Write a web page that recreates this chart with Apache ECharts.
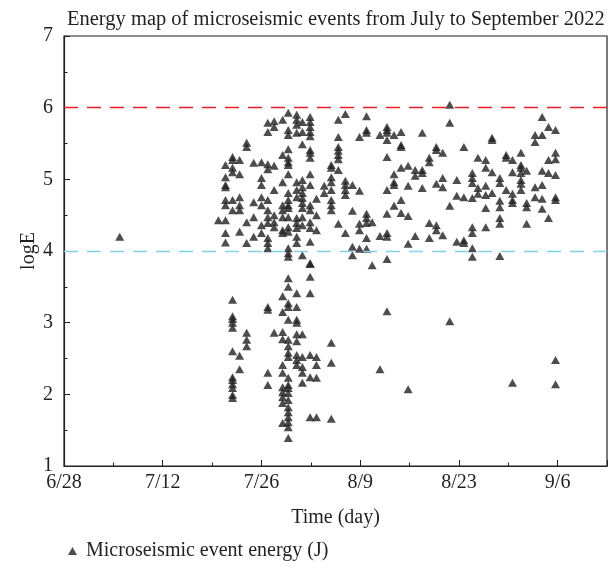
<!DOCTYPE html>
<html>
<head>
<meta charset="utf-8">
<script src="https://cdn.jsdelivr.net/npm/echarts@6/dist/echarts.min.js"></script>
<style>
  html, body { margin: 0; padding: 0; background: #fff; }
  #main { width: 613px; height: 574px; }
</style>
</head>
<body>
<div id="main"></div>
<script>
// days counted from 6/28, logE values read per day column
var dayCols = [7.9, 21.9, 22.9, 23.9, 24.9, 25.9, 26.9, 28.0, 28.9, 29.8, 31.0, 31.8, 33.0, 33.8, 34.9, 35.8, 36.9, 37.9,
  38.9, 39.9, 40.9, 41.9, 42.9, 43.7, 44.8, 45.8, 46.8, 47.8, 48.8, 49.8, 50.8, 51.8, 52.8, 53.7, 54.7, 55.7,
  56.7, 57.9, 58.7, 59.8, 60.7, 61.8, 62.7, 63.6, 64.8, 65.6, 66.8, 67.8, 68.7, 69.7];
var logEValues = [
  [4.20],
  [4.43],
  [5.20, 5.03, 4.92, 4.89, 4.71, 4.64, 4.43, 4.25, 4.12],
  [5.31, 5.27, 5.16, 5.10, 4.71, 4.57, 3.32, 3.09, 3.05, 3.00, 2.93, 2.60, 2.24, 2.20, 2.14, 2.09, 1.99, 1.95],
  [5.27, 5.07, 4.75, 4.64, 4.57, 4.27, 2.54, 2.35],
  [5.51, 5.45, 4.40, 4.11, 2.86, 2.76, 2.67],
  [5.23, 4.68, 4.47, 4.20],
  [5.24, 5.02, 4.92, 4.75, 4.64, 4.36, 4.25],
  [5.79, 5.66, 5.21, 5.14, 4.71, 4.57, 4.47, 4.39, 4.18, 4.11, 4.04, 3.22, 3.18, 2.30, 2.13],
  [5.81, 5.73, 5.19, 4.85, 4.50, 4.40, 4.33, 2.86],
  [5.83, 5.34, 4.96, 4.64, 4.57, 4.47, 4.29, 4.25, 3.37, 3.15, 2.87, 2.77, 2.41, 2.30, 2.10, 2.03, 1.96, 1.88, 1.60],
  [5.93, 5.69, 5.62, 5.42, 5.30, 5.24, 5.20, 5.07, 4.81, 4.71, 4.64, 4.60, 4.47, 4.33, 4.27, 4.04, 3.97, 3.92,
    3.62, 3.50, 3.27, 3.22, 3.04, 2.76, 2.67, 2.58, 2.52, 2.23, 2.13, 2.09, 2.02, 1.92, 1.82, 1.75, 1.68, 1.61, 1.54, 1.39],
  [5.90, 5.83, 5.76, 5.65, 4.96, 4.85, 4.75, 4.46, 4.39, 4.32, 4.20, 4.11, 3.41, 3.22, 3.04, 3.00, 2.84, 2.74, 2.55, 2.48, 2.41],
  [5.80, 5.66, 5.49, 4.99, 4.89, 4.81, 4.74, 4.67, 4.60, 4.47, 4.36, 3.94, 2.84, 2.52, 2.38, 2.30, 2.16],
  [5.87, 5.80, 5.73, 5.66, 5.60, 5.41, 5.37, 5.30, 5.07, 4.92, 4.64, 4.57, 4.40, 4.32, 4.13, 3.83, 3.82, 3.64, 3.41, 2.55, 2.24, 1.68],
  [4.73, 4.50, 4.29, 2.52, 2.41, 2.23, 1.68],
  [4.91, 4.81],
  [5.20, 5.16, 5.03, 4.96, 4.85, 4.71, 4.64, 4.57, 2.72, 2.44, 1.66],
  [5.83, 5.59, 5.45, 5.40, 5.34, 5.28, 5.13, 4.38],
  [5.91, 4.98, 4.92, 4.85, 4.78, 4.25],
  [4.92, 4.56, 4.06, 3.94],
  [5.59, 4.84, 4.38, 4.29, 4.03],
  [5.88, 5.69, 5.65, 4.52, 4.46, 4.39, 4.18, 4.03],
  [4.40, 3.80],
  [5.62, 4.21, 2.35],
  [5.73, 5.69, 5.65, 5.55, 5.31, 4.85, 4.52, 4.25, 4.20, 3.89, 3.16],
  [5.62, 5.07, 4.96, 4.92, 4.63],
  [5.66, 5.48, 5.45, 5.16, 4.71, 4.53],
  [5.19, 4.91, 4.49, 4.10, 2.07],
  [5.13, 5.05, 4.21],
  [5.65, 5.13, 5.09, 4.88],
  [5.30, 5.24, 4.39, 4.18],
  [5.45, 5.41, 4.94, 4.36, 4.29],
  [5.37, 5.02, 4.89, 4.22],
  [6.04, 5.79, 4.63, 3.02],
  [4.99, 4.77, 4.13],
  [5.45, 4.75, 4.15, 4.11],
  [5.09, 5.02, 4.95, 4.74, 4.33, 4.25, 4.04, 3.92],
  [5.30, 4.88, 4.80],
  [5.27, 5.16, 4.91, 4.78, 4.60, 4.33],
  [5.58, 5.55, 5.10, 4.81],
  [5.02, 4.95, 4.70, 4.61, 4.46, 4.38, 3.93],
  [5.34, 5.30, 4.85],
  [5.27, 5.10, 4.80, 4.71, 4.67, 2.16],
  [5.37, 5.20, 5.16, 5.09, 4.99, 4.94, 4.85],
  [5.12, 4.67, 4.61, 4.38],
  [5.62, 5.52, 4.89, 4.75],
  [5.87, 5.62, 5.12, 4.92, 4.73, 4.59],
  [5.73, 5.27, 5.09, 4.46],
  [5.69, 5.37, 5.28, 5.06, 4.75, 4.71, 2.48, 2.14]
];
var tickDays = [0, 14, 28, 42, 56, 70];
var tickLabels = ['6/28', '7/12', '7/26', '8/9', '8/23', '9/6'];
var upperLimit = 6;
var lowerLimit = 4;

var points = [];
for (var i = 0; i < dayCols.length; i++) {
  for (var j = 0; j < logEValues[i].length; j++) {
    points.push([dayCols[i], logEValues[i][j]]);
  }
}

var serif = 'Liberation Serif';
var ink = '#231f20';

var chartDom = document.getElementById('main');
var myChart = echarts.init(chartDom);
var option = {
  animation: false,
  title: {
    text: 'Energy map of microseismic events from July to September 2022',
    left: 62,
    top: 4,
    textStyle: { fontFamily: serif, fontSize: 20.5, fontWeight: 'normal', color: ink }
  },
  legend: {
    left: 63,
    top: 536,
    icon: 'triangle',
    itemWidth: 9,
    itemHeight: 8,
    itemGap: 8,
    textStyle: { fontFamily: serif, fontSize: 20, color: ink, padding: [0, 0, 0, 4] },
    data: ['Microseismic event energy (J)']
  },
  grid: {
    left: 64, right: 6, top: 36, bottom: 108,
    show: true, borderColor: ink, borderWidth: 1.2
  },
  xAxis: [
    {
      type: 'value',
      min: 0, max: 77, interval: 14,
      name: 'Time (day)',
      nameLocation: 'middle',
      nameGap: 42,
      nameTextStyle: { fontFamily: serif, fontSize: 20, color: ink },
      axisLine: { lineStyle: { color: ink, width: 1.2 } },
      axisTick: { inside: true, length: 6, lineStyle: { color: ink } },
      axisLabel: {
        margin: 7,
        fontFamily: serif, fontSize: 20, color: ink,
        formatter: function (v) {
          var k = tickDays.indexOf(v);
          return k >= 0 ? tickLabels[k] : '';
        }
      },
      splitLine: { show: false }
    },
    {
      type: 'value',
      position: 'bottom',
      min: 0, max: 77, interval: 7,
      axisLine: { show: false },
      axisTick: { inside: true, length: 3.5, lineStyle: { color: ink } },
      axisLabel: { show: false },
      splitLine: { show: false }
    }
  ],
  yAxis: {
    type: 'value',
    min: 1, max: 7, interval: 1,
    name: 'logE',
    nameLocation: 'middle',
    nameGap: 25,
    nameMoveOverlap: false,
    nameTextStyle: { fontFamily: serif, fontSize: 20, color: ink },
    axisLine: { lineStyle: { color: ink, width: 1.2 } },
    axisTick: { inside: true, length: 6, lineStyle: { color: ink } },
    minorTick: { show: true, splitNumber: 2, length: 3.5, lineStyle: { color: ink } },
    axisLabel: { margin: 11, fontFamily: serif, fontSize: 20, color: ink },
    splitLine: { show: false }
  },
  series: [
    {
      name: 'Microseismic event energy (J)',
      type: 'scatter',
      symbol: 'triangle',
      symbolSize: [9, 8],
      itemStyle: { color: ink },
      data: points,
      markLine: {
        silent: true,
        symbol: 'none',
        label: { show: false },
        data: [
          { yAxis: upperLimit, lineStyle: { color: '#ee1c25', type: [14, 9], width: 1.3 } },
          { yAxis: lowerLimit, lineStyle: { color: '#7fd3e3', type: [14, 9], width: 1.3 } }
        ]
      }
    }
  ]
};
option && myChart.setOption(option);
</script>
</body>
</html>
